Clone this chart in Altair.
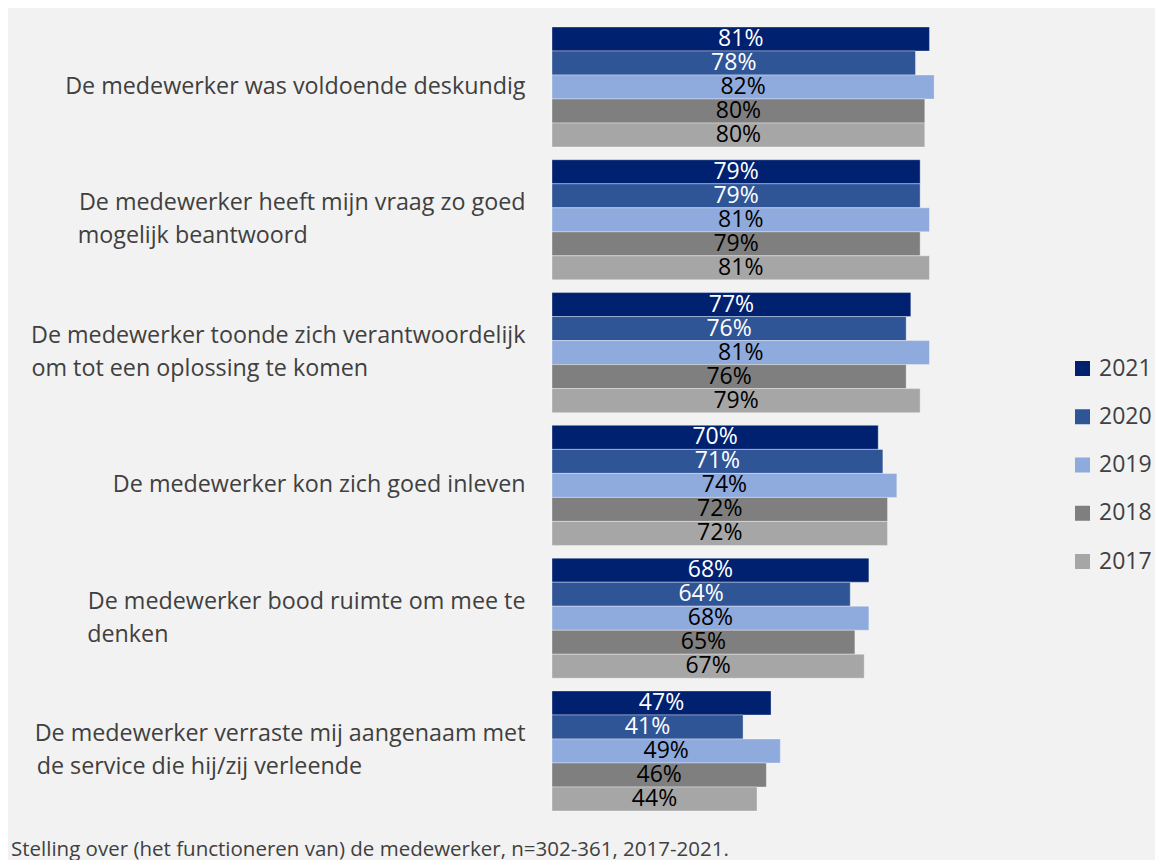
import altair as alt
import pandas as pd

statements = [
    "De medewerker was voldoende deskundig",
    "De medewerker heeft mijn vraag zo goed\nmogelijk beantwoord",
    "De medewerker toonde zich verantwoordelijk\nom tot een oplossing te komen",
    "De medewerker kon zich goed inleven",
    "De medewerker bood ruimte om mee te\ndenken",
    "De medewerker verraste mij aangenaam met\nde service die hij/zij verleende",
]
years = ["2021", "2020", "2019", "2018", "2017"]
v2021 = [81, 79, 77, 70, 68, 47]
v2020 = [78, 79, 76, 71, 64, 41]
v2019 = [82, 81, 81, 74, 68, 49]
v2018 = [80, 79, 76, 72, 65, 46]
v2017 = [80, 81, 79, 72, 67, 44]
bar_colors = ["#002070", "#2f5597", "#8faadc", "#7f7f7f", "#a6a6a6"]
footer = "Stelling over (het functioneren van) de medewerker, n=302-361, 2017-2021."

# trailing no-break spaces (closed by a zero-width space so they are not trimmed)
# so that the second lines start where the first lines start
second_line_pad = [0, 36, 26, 0, 59, 27]


def padded(s, n):
    return s + ("\u00a0" * n + "\u200b" if n else "")


series = [v2021, v2020, v2019, v2018, v2017]
rows = []
for i, s in enumerate(statements):
    for y, vals in zip(years, series):
        rows.append({"statement": padded(s, second_line_pad[i]),
                     "year": y, "value": vals[i], "label": f"{vals[i]}%"})
df = pd.DataFrame(rows)
order = [padded(s, p) for s, p in zip(statements, second_line_pad)]

FONT = "Open Sans"
TXT = "#404040"

base = alt.Chart(df).encode(
    y=alt.Y(
        "statement:N",
        sort=order,
        title=None,
        scale=alt.Scale(paddingInner=0.096, paddingOuter=0.045),
        axis=alt.Axis(
            labelExpr="split(datum.label, '\\n')",
            domain=False,
            ticks=False,
            labelFont=FONT,
            labelFontSize=23.3,
            labelColor=TXT,
            labelPadding=27,
            labelLineHeight=33,
            labelLimit=0,
            labelOffset=alt.condition(
                "indexof(datum.value, '\\n') >= 0", alt.value(-16.5), alt.value(0)
            ),
        ),
    ),
    yOffset=alt.YOffset("year:N", sort=years, scale=alt.Scale(paddingInner=0, paddingOuter=0)),
)

bars = base.mark_bar(stroke="#ffffff", strokeWidth=1, strokeOpacity=0.35).encode(
    x=alt.X("value:Q", scale=alt.Scale(domain=[0, 100]), axis=None),
    color=alt.Color(
        "year:N",
        sort=years,
        scale=alt.Scale(domain=years, range=bar_colors),
        legend=alt.Legend(
            title=None,
            orient="none",
            legendX=519,
            legendY=336,
            symbolType="square",
            symbolSize=225,
            symbolStrokeWidth=0,
            labelFont=FONT,
            labelFontSize=23,
            labelColor=TXT,
            labelOffset=5,
            rowPadding=24.25,
            padding=0,
        ),
    ),
)

text = base.transform_calculate(mid="datum.value / 2").mark_text(
    font=FONT, fontSize=23, baseline="middle", align="center"
).encode(
    x=alt.X("mid:Q"),
    text="label:N",
    color=alt.condition(
        "datum.year == '2021' || datum.year == '2020'", alt.value("#ffffff"), alt.value("#000000")
    ),
)

chart = (
    alt.layer(bars, text)
    .properties(
        width=466,
        height=796,
        autosize="none",
        padding={"left": 544, "top": 13, "right": 137, "bottom": 43},
        title=alt.TitleParams(
            footer,
            orient="bottom",
            anchor="start",
            frame="group",
            dx=-541,
            offset=23,
            font=FONT,
            fontSize=20.5,
            fontWeight="normal",
            color=TXT,
        ),
    )
    .configure(background="#f2f2f2")
    .configure_view(stroke=None)
)

chart.save("out.html", embed_options={"renderer": "svg", "actions": False})
